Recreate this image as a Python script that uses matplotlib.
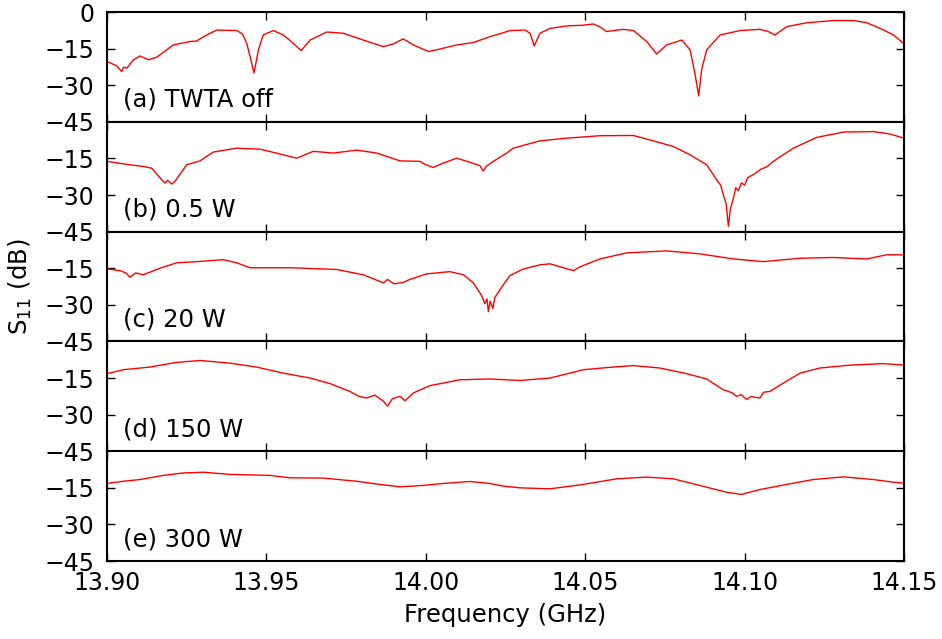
import numpy as np
import matplotlib.pyplot as plt

# S11 sweeps, one trace per TWTA power level (GHz, dB)
f_off = [13.9000, 13.9030, 13.9046, 13.9052, 13.9062, 13.9083, 13.9104, 13.9130, 13.9156,
         13.9208, 13.9260, 13.9281, 13.9310, 13.9344, 13.9407, 13.9425, 13.9438, 13.9449,
         13.9461, 13.9475, 13.9490, 13.9522, 13.9553, 13.9584, 13.9609, 13.9637, 13.9689,
         13.9741, 13.9804, 13.9867, 13.9898, 13.9929, 13.9961, 14.0008, 14.0034, 14.0097,
         14.0149, 14.0201, 14.0233, 14.0264, 14.0311, 14.0327, 14.0340, 14.0358, 14.0390,
         14.0442, 14.0494, 14.0525, 14.0545, 14.0567, 14.0619, 14.0651, 14.0693, 14.0724,
         14.0755, 14.0803, 14.0829, 14.0844, 14.0856, 14.0865, 14.0881, 14.0923, 14.0986,
         14.1048, 14.1074, 14.1095, 14.1132, 14.1195, 14.1278, 14.1341, 14.1383, 14.1425,
         14.1467, 14.1500]
s_off = [-20.3, -22.0, -24.4, -22.6, -23.0, -19.6, -18.0, -19.6, -18.5,
         -13.5, -12.1, -11.9, -9.6, -7.4, -7.6, -9.0, -12.8, -18.3,
         -25.0, -15.5, -9.4, -7.6, -9.4, -12.8, -15.8, -11.5, -8.2,
         -8.7, -11.5, -14.2, -13.1, -11.0, -13.5, -16.2, -15.5, -13.5,
         -12.5, -10.1, -8.9, -7.6, -7.4, -8.7, -13.9, -8.7, -6.7,
         -5.7, -5.4, -4.9, -6.0, -8.0, -7.1, -7.6, -12.1, -17.2,
         -13.5, -11.5, -15.5, -25.1, -34.4, -23.7, -15.5, -9.4, -7.6,
         -7.1, -8.0, -9.4, -6.0, -4.4, -3.5, -3.5, -4.4, -6.7,
         -9.4, -13.1]

f_05w = [13.9000, 13.9040, 13.9072, 13.9114, 13.9140, 13.9151, 13.9170, 13.9182, 13.9190,
         13.9203, 13.9212, 13.9224, 13.9250, 13.9292, 13.9333, 13.9407, 13.9480, 13.9543,
         13.9595, 13.9647, 13.9710, 13.9783, 13.9846, 13.9919, 13.9982, 14.0000, 14.0023,
         14.0055, 14.0097, 14.0139, 14.0170, 14.0180, 14.0190, 14.0212, 14.0254, 14.0274,
         14.0358, 14.0442, 14.0546, 14.0651, 14.0703, 14.0776, 14.0829, 14.0881, 14.0912,
         14.0925, 14.0933, 14.0942, 14.0949, 14.0955, 14.0965, 14.0972, 14.0980, 14.0990,
         14.1000, 14.1010, 14.1027, 14.1050, 14.1070, 14.1090, 14.1120, 14.1153, 14.1226,
         14.1310, 14.1404, 14.1456, 14.1500]
s_05w = [-16.2, -17.0, -17.6, -18.3, -19.0, -20.6, -23.5, -25.1, -24.0,
         -25.5, -24.6, -22.4, -17.6, -16.0, -12.4, -10.8, -11.2, -13.2,
         -14.9, -12.1, -12.8, -11.6, -12.8, -16.0, -16.2, -17.6, -18.7,
         -16.9, -14.9, -16.6, -18.0, -20.2, -18.2, -16.2, -12.8, -10.8,
         -7.8, -6.7, -5.7, -5.6, -7.4, -10.1, -13.5, -17.6, -23.7,
         -26.0, -29.9, -33.5, -42.8, -36.0, -31.2, -27.0, -28.3, -25.0,
         -26.0, -22.8, -21.7, -19.5, -18.4, -16.2, -13.6, -10.8, -6.4,
         -4.2, -4.0, -5.0, -6.7]

f_20w = [13.9000, 13.9041, 13.9060, 13.9072, 13.9090, 13.9114, 13.9166, 13.9218, 13.9281,
         13.9365, 13.9407, 13.9449, 13.9574, 13.9720, 13.9804, 13.9867, 13.9880, 13.9900,
         13.9929, 13.9950, 14.0003, 14.0076, 14.0118, 14.0149, 14.0175, 14.0185, 14.0192,
         14.0196, 14.0202, 14.0210, 14.0217, 14.0243, 14.0264, 14.0306, 14.0358, 14.0390,
         14.0426, 14.0463, 14.0484, 14.0546, 14.0630, 14.0755, 14.0859, 14.0965, 14.1059,
         14.1174, 14.1278, 14.1383, 14.1445, 14.1500]
s_20w = [-15.3, -16.0, -17.0, -18.7, -16.9, -17.7, -15.0, -12.8, -12.3,
         -11.5, -12.8, -14.8, -14.8, -15.5, -17.7, -21.0, -19.6, -21.4,
         -20.8, -19.6, -17.3, -16.4, -17.7, -21.0, -26.2, -29.5, -27.6,
         -32.8, -28.5, -31.5, -26.9, -21.8, -18.0, -15.3, -13.6, -13.2,
         -14.6, -16.0, -14.4, -11.2, -8.7, -7.9, -9.1, -11.2, -12.3,
         -10.9, -10.6, -11.2, -9.5, -9.5]

f_150w = [13.9000, 13.9051, 13.9135, 13.9218, 13.9292, 13.9386, 13.9469, 13.9553, 13.9637,
          13.9700, 13.9762, 13.9790, 13.9814, 13.9840, 13.9867, 13.9880, 13.9895, 13.9919,
          13.9935, 13.9961, 14.0013, 14.0065, 14.0107, 14.0201, 14.0296, 14.0390, 14.0494,
          14.0578, 14.0651, 14.0734, 14.0818, 14.0881, 14.0933, 14.0960, 14.0975, 14.0990,
          14.1006, 14.1020, 14.1048, 14.1060, 14.1079, 14.1121, 14.1174, 14.1236, 14.1331,
          14.1435, 14.1500]
s_150w = [-13.2, -11.6, -10.5, -8.6, -7.8, -8.9, -10.5, -13.0, -15.0,
          -17.3, -20.5, -22.5, -23.2, -22.0, -24.5, -26.5, -23.5, -22.5,
          -24.3, -21.1, -18.1, -16.8, -15.7, -15.4, -16.0, -15.0, -11.6,
          -10.6, -9.9, -10.9, -13.2, -15.4, -19.8, -21.0, -22.5, -21.8,
          -23.8, -22.6, -23.2, -20.8, -20.5, -17.1, -13.0, -10.9, -9.7,
          -9.1, -9.7]

f_300w = [13.9000, 13.9051, 13.9104, 13.9177, 13.9239, 13.9302, 13.9386, 13.9511, 13.9574,
          13.9678, 13.9783, 13.9856, 13.9919, 13.9992, 14.0055, 14.0139, 14.0201, 14.0243,
          14.0296, 14.0390, 14.0494, 14.0599, 14.0693, 14.0776, 14.0859, 14.0943, 14.0990,
          14.1048, 14.1132, 14.1215, 14.1310, 14.1404, 14.1467, 14.1500]
s_300w = [-13.2, -12.3, -11.6, -9.9, -8.9, -8.6, -9.5, -9.9, -10.9,
          -11.0, -12.3, -13.6, -14.6, -14.0, -13.2, -12.4, -13.2, -14.3,
          -15.0, -15.4, -13.6, -11.3, -10.6, -11.3, -14.0, -16.8, -17.7,
          -15.7, -13.6, -11.6, -10.5, -11.6, -12.7, -13.1]

traces = [(f_off, s_off, '(a) TWTA off'),
          (f_05w, s_05w, '(b) 0.5 W'),
          (f_20w, s_20w, '(c) 20 W'),
          (f_150w, s_150w, '(d) 150 W'),
          (f_300w, s_300w, '(e) 300 W')]

fs = 17
fig, axes = plt.subplots(5, 1, sharex=True, figsize=(9.42, 6.39), dpi=100)
fig.subplots_adjust(left=0.1136, right=0.9597, top=0.9812, bottom=0.122, hspace=0)

for i, (ax, (f, s, lab)) in enumerate(zip(axes, traces)):
    ax.plot(f, s, color='red', lw=1.0)
    ax.set_xlim(13.90, 14.15)
    ax.set_ylim(-45, 0)
    if i == 0:
        ax.set_yticks([0, -15, -30, -45])
    else:
        ax.set_yticks([-15, -30, -45])
    ax.set_xticks([13.90, 13.95, 14.00, 14.05, 14.10, 14.15])
    ax.tick_params(direction='in', length=6, width=1, top=True, right=True,
                   labelsize=fs)
    ax.tick_params(axis='y', pad=9)
    ax.tick_params(axis='x', pad=7)
    for sp in ax.spines.values():
        sp.set_linewidth(1.5)
    ax.text(0.02, 0.2, lab, transform=ax.transAxes, fontsize=17.5, va='center')

axes[-1].set_xticklabels(['13.90', '13.95', '14.00', '14.05', '14.10', '14.15'])
axes[-1].set_xlabel('Frequency (GHz)', fontsize=17.5, labelpad=6)
fig.text(0.022, 0.551, 'S$_{11}$ (dB)', rotation=90, fontsize=17.5,
         va='center', ha='center')

fig.savefig('out.png', dpi=100)
